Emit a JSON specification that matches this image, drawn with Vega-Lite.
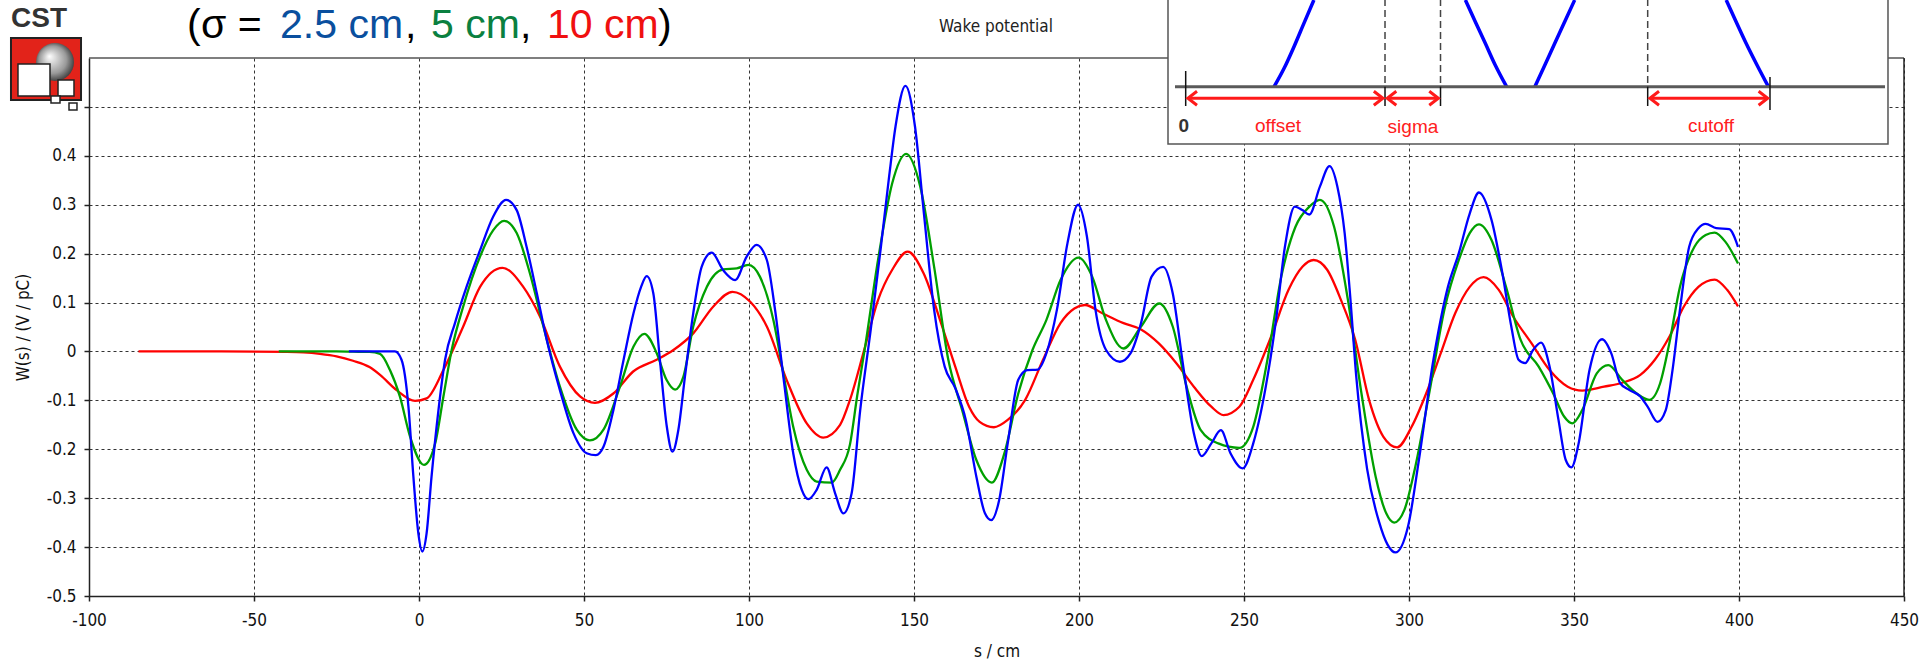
{
  "$schema": "https://vega.github.io/schema/vega-lite/v6.json",
  "width": 1815,
  "height": 538,
  "autosize": {"type": "none"},
  "padding": {"left": 89, "top": 58, "right": 15, "bottom": 63},
  "background": "white",
  "config": {
    "view": {"stroke": null},
    "axis": {
      "domainColor": "#222", "domainWidth": 1.5,
      "tickColor": "#222", "tickWidth": 1.5, "tickSize": 5,
      "labelFont": "DejaVu Sans Condensed, DejaVu Sans", "labelFontSize": 17, "labelColor": "#111",
      "titleFont": "DejaVu Sans Condensed, DejaVu Sans", "titleFontSize": 17, "titleFontWeight": "normal", "titleColor": "#111",
      "gridColor": "#333", "gridDash": [3, 3], "gridWidth": 1, "gridOpacity": 1
    }
  },
  "datasets": {
    "wake": [
      {"x": -85, "y": 0, "sigma": "10 cm"}, {"x": -60, "y": 0, "sigma": "10 cm"}, {"x": -40, "y": -0.001, "sigma": "10 cm"}, {"x": -35, "y": -0.002, "sigma": "10 cm"}, {"x": -30, "y": -0.005, "sigma": "10 cm"}, {"x": -25, "y": -0.01, "sigma": "10 cm"}, {"x": -20, "y": -0.019, "sigma": "10 cm"}, {"x": -15, "y": -0.032, "sigma": "10 cm"}, {"x": -11.8, "y": -0.048, "sigma": "10 cm"}, {"x": -6.8, "y": -0.079, "sigma": "10 cm"}, {"x": -1.2, "y": -0.101, "sigma": "10 cm"}, {"x": 2.3, "y": -0.096, "sigma": "10 cm"}, {"x": 7.4, "y": -0.038, "sigma": "10 cm"}, {"x": 13.4, "y": 0.051, "sigma": "10 cm"}, {"x": 18.5, "y": 0.132, "sigma": "10 cm"}, {"x": 25.3, "y": 0.171, "sigma": "10 cm"}, {"x": 31.6, "y": 0.132, "sigma": "10 cm"}, {"x": 36.7, "y": 0.071, "sigma": "10 cm"}, {"x": 42.7, "y": -0.031, "sigma": "10 cm"}, {"x": 48.8, "y": -0.092, "sigma": "10 cm"}, {"x": 53.3, "y": -0.105, "sigma": "10 cm"}, {"x": 58.9, "y": -0.086, "sigma": "10 cm"}, {"x": 64.9, "y": -0.041, "sigma": "10 cm"}, {"x": 72.0, "y": -0.017, "sigma": "10 cm"}, {"x": 77.1, "y": 0.003, "sigma": "10 cm"}, {"x": 83.1, "y": 0.037, "sigma": "10 cm"}, {"x": 89.2, "y": 0.092, "sigma": "10 cm"}, {"x": 95.0, "y": 0.122, "sigma": "10 cm"}, {"x": 100.3, "y": 0.102, "sigma": "10 cm"}, {"x": 105.4, "y": 0.051, "sigma": "10 cm"}, {"x": 111.4, "y": -0.058, "sigma": "10 cm"}, {"x": 117.5, "y": -0.147, "sigma": "10 cm"}, {"x": 122.5, "y": -0.176, "sigma": "10 cm"}, {"x": 127.6, "y": -0.15, "sigma": "10 cm"}, {"x": 130.6, "y": -0.099, "sigma": "10 cm"}, {"x": 134.9, "y": 0.003, "sigma": "10 cm"}, {"x": 139.1, "y": 0.105, "sigma": "10 cm"}, {"x": 143.4, "y": 0.167, "sigma": "10 cm"}, {"x": 148.1, "y": 0.204, "sigma": "10 cm"}, {"x": 152.9, "y": 0.16, "sigma": "10 cm"}, {"x": 158.2, "y": 0.058, "sigma": "10 cm"}, {"x": 162.5, "y": -0.031, "sigma": "10 cm"}, {"x": 166.7, "y": -0.113, "sigma": "10 cm"}, {"x": 169.9, "y": -0.144, "sigma": "10 cm"}, {"x": 174.2, "y": -0.155, "sigma": "10 cm"}, {"x": 178.4, "y": -0.14, "sigma": "10 cm"}, {"x": 183.7, "y": -0.099, "sigma": "10 cm"}, {"x": 189.1, "y": -0.017, "sigma": "10 cm"}, {"x": 194.4, "y": 0.058, "sigma": "10 cm"}, {"x": 198.6, "y": 0.088, "sigma": "10 cm"}, {"x": 201.8, "y": 0.095, "sigma": "10 cm"}, {"x": 207.1, "y": 0.078, "sigma": "10 cm"}, {"x": 213.5, "y": 0.058, "sigma": "10 cm"}, {"x": 218.8, "y": 0.045, "sigma": "10 cm"}, {"x": 224.1, "y": 0.017, "sigma": "10 cm"}, {"x": 229.5, "y": -0.024, "sigma": "10 cm"}, {"x": 234.8, "y": -0.072, "sigma": "10 cm"}, {"x": 240.1, "y": -0.113, "sigma": "10 cm"}, {"x": 243.8, "y": -0.13, "sigma": "10 cm"}, {"x": 248.6, "y": -0.113, "sigma": "10 cm"}, {"x": 252.8, "y": -0.058, "sigma": "10 cm"}, {"x": 258.2, "y": 0.03, "sigma": "10 cm"}, {"x": 263.5, "y": 0.126, "sigma": "10 cm"}, {"x": 267.7, "y": 0.173, "sigma": "10 cm"}, {"x": 271.1, "y": 0.187, "sigma": "10 cm"}, {"x": 275.2, "y": 0.167, "sigma": "10 cm"}, {"x": 279.4, "y": 0.105, "sigma": "10 cm"}, {"x": 283.7, "y": 0.024, "sigma": "10 cm"}, {"x": 287.9, "y": -0.099, "sigma": "10 cm"}, {"x": 292.2, "y": -0.174, "sigma": "10 cm"}, {"x": 296.4, "y": -0.196, "sigma": "10 cm"}, {"x": 300.8, "y": -0.154, "sigma": "10 cm"}, {"x": 305.2, "y": -0.086, "sigma": "10 cm"}, {"x": 309.6, "y": -0.004, "sigma": "10 cm"}, {"x": 314.0, "y": 0.078, "sigma": "10 cm"}, {"x": 318.4, "y": 0.132, "sigma": "10 cm"}, {"x": 322.6, "y": 0.152, "sigma": "10 cm"}, {"x": 327.2, "y": 0.126, "sigma": "10 cm"}, {"x": 331.6, "y": 0.071, "sigma": "10 cm"}, {"x": 337.1, "y": 0.017, "sigma": "10 cm"}, {"x": 342.6, "y": -0.038, "sigma": "10 cm"}, {"x": 348.1, "y": -0.072, "sigma": "10 cm"}, {"x": 352.5, "y": -0.08, "sigma": "10 cm"}, {"x": 359.1, "y": -0.072, "sigma": "10 cm"}, {"x": 364.6, "y": -0.064, "sigma": "10 cm"}, {"x": 370.1, "y": -0.048, "sigma": "10 cm"}, {"x": 374.5, "y": -0.017, "sigma": "10 cm"}, {"x": 378.9, "y": 0.03, "sigma": "10 cm"}, {"x": 383.3, "y": 0.092, "sigma": "10 cm"}, {"x": 387.7, "y": 0.132, "sigma": "10 cm"}, {"x": 392.6, "y": 0.147, "sigma": "10 cm"}, {"x": 396.4, "y": 0.126, "sigma": "10 cm"}, {"x": 399.7, "y": 0.092, "sigma": "10 cm"},

      {"x": -42.5, "y": 0, "sigma": "5 cm"}, {"x": -25, "y": 0, "sigma": "5 cm"}, {"x": -20, "y": -0.0005, "sigma": "5 cm"}, {"x": -15, "y": -0.001, "sigma": "5 cm"}, {"x": -11.8, "y": -0.005, "sigma": "5 cm"}, {"x": -8.8, "y": -0.038, "sigma": "5 cm"}, {"x": -5.8, "y": -0.092, "sigma": "5 cm"}, {"x": -2.7, "y": -0.174, "sigma": "5 cm"}, {"x": 1.5, "y": -0.232, "sigma": "5 cm"}, {"x": 4.9, "y": -0.188, "sigma": "5 cm"}, {"x": 7.4, "y": -0.092, "sigma": "5 cm"}, {"x": 9.9, "y": 0.003, "sigma": "5 cm"}, {"x": 13.4, "y": 0.092, "sigma": "5 cm"}, {"x": 18.5, "y": 0.194, "sigma": "5 cm"}, {"x": 22.5, "y": 0.248, "sigma": "5 cm"}, {"x": 25.8, "y": 0.267, "sigma": "5 cm"}, {"x": 29.6, "y": 0.242, "sigma": "5 cm"}, {"x": 33.6, "y": 0.16, "sigma": "5 cm"}, {"x": 37.7, "y": 0.051, "sigma": "5 cm"}, {"x": 42.7, "y": -0.072, "sigma": "5 cm"}, {"x": 47.8, "y": -0.16, "sigma": "5 cm"}, {"x": 51.8, "y": -0.182, "sigma": "5 cm"}, {"x": 55.9, "y": -0.16, "sigma": "5 cm"}, {"x": 60.9, "y": -0.072, "sigma": "5 cm"}, {"x": 65.0, "y": 0.01, "sigma": "5 cm"}, {"x": 68.3, "y": 0.036, "sigma": "5 cm"}, {"x": 72.0, "y": -0.003, "sigma": "5 cm"}, {"x": 75.0, "y": -0.058, "sigma": "5 cm"}, {"x": 77.6, "y": -0.078, "sigma": "5 cm"}, {"x": 80.1, "y": -0.052, "sigma": "5 cm"}, {"x": 83.1, "y": 0.051, "sigma": "5 cm"}, {"x": 87.2, "y": 0.132, "sigma": "5 cm"}, {"x": 92.2, "y": 0.168, "sigma": "5 cm"}, {"x": 96.3, "y": 0.17, "sigma": "5 cm"}, {"x": 99.8, "y": 0.177, "sigma": "5 cm"}, {"x": 103.3, "y": 0.153, "sigma": "5 cm"}, {"x": 107.4, "y": 0.064, "sigma": "5 cm"}, {"x": 110.4, "y": -0.045, "sigma": "5 cm"}, {"x": 113.4, "y": -0.154, "sigma": "5 cm"}, {"x": 117.5, "y": -0.242, "sigma": "5 cm"}, {"x": 120.5, "y": -0.266, "sigma": "5 cm"}, {"x": 125.1, "y": -0.268, "sigma": "5 cm"}, {"x": 127.6, "y": -0.242, "sigma": "5 cm"}, {"x": 130.6, "y": -0.19, "sigma": "5 cm"}, {"x": 132.8, "y": -0.09, "sigma": "5 cm"}, {"x": 135.2, "y": 0.01, "sigma": "5 cm"}, {"x": 139.1, "y": 0.187, "sigma": "5 cm"}, {"x": 143.4, "y": 0.344, "sigma": "5 cm"}, {"x": 147.6, "y": 0.404, "sigma": "5 cm"}, {"x": 151.9, "y": 0.337, "sigma": "5 cm"}, {"x": 156.1, "y": 0.173, "sigma": "5 cm"}, {"x": 160.4, "y": -0.017, "sigma": "5 cm"}, {"x": 164.6, "y": -0.12, "sigma": "5 cm"}, {"x": 168.9, "y": -0.222, "sigma": "5 cm"}, {"x": 173.6, "y": -0.268, "sigma": "5 cm"}, {"x": 177.4, "y": -0.208, "sigma": "5 cm"}, {"x": 181.6, "y": -0.086, "sigma": "5 cm"}, {"x": 185.9, "y": 0.003, "sigma": "5 cm"}, {"x": 190.1, "y": 0.064, "sigma": "5 cm"}, {"x": 194.4, "y": 0.146, "sigma": "5 cm"}, {"x": 199.9, "y": 0.192, "sigma": "5 cm"}, {"x": 204.0, "y": 0.153, "sigma": "5 cm"}, {"x": 208.2, "y": 0.064, "sigma": "5 cm"}, {"x": 213.5, "y": 0.006, "sigma": "5 cm"}, {"x": 218.8, "y": 0.051, "sigma": "5 cm"}, {"x": 224.3, "y": 0.098, "sigma": "5 cm"}, {"x": 228.4, "y": 0.051, "sigma": "5 cm"}, {"x": 232.6, "y": -0.072, "sigma": "5 cm"}, {"x": 236.9, "y": -0.161, "sigma": "5 cm"}, {"x": 242.2, "y": -0.188, "sigma": "5 cm"}, {"x": 248.6, "y": -0.197, "sigma": "5 cm"}, {"x": 252.8, "y": -0.154, "sigma": "5 cm"}, {"x": 257.1, "y": -0.017, "sigma": "5 cm"}, {"x": 261.3, "y": 0.153, "sigma": "5 cm"}, {"x": 265.6, "y": 0.255, "sigma": "5 cm"}, {"x": 269.8, "y": 0.296, "sigma": "5 cm"}, {"x": 273.0, "y": 0.31, "sigma": "5 cm"}, {"x": 277.3, "y": 0.255, "sigma": "5 cm"}, {"x": 281.5, "y": 0.105, "sigma": "5 cm"}, {"x": 285.6, "y": -0.086, "sigma": "5 cm"}, {"x": 289.9, "y": -0.256, "sigma": "5 cm"}, {"x": 293.1, "y": -0.331, "sigma": "5 cm"}, {"x": 295.5, "y": -0.35, "sigma": "5 cm"}, {"x": 298.6, "y": -0.324, "sigma": "5 cm"}, {"x": 301.9, "y": -0.236, "sigma": "5 cm"}, {"x": 306.3, "y": -0.079, "sigma": "5 cm"}, {"x": 310.7, "y": 0.085, "sigma": "5 cm"}, {"x": 315.1, "y": 0.187, "sigma": "5 cm"}, {"x": 318.4, "y": 0.242, "sigma": "5 cm"}, {"x": 321.2, "y": 0.26, "sigma": "5 cm"}, {"x": 325.0, "y": 0.228, "sigma": "5 cm"}, {"x": 329.4, "y": 0.132, "sigma": "5 cm"}, {"x": 333.8, "y": 0.024, "sigma": "5 cm"}, {"x": 339.3, "y": -0.031, "sigma": "5 cm"}, {"x": 343.7, "y": -0.086, "sigma": "5 cm"}, {"x": 347.0, "y": -0.133, "sigma": "5 cm"}, {"x": 349.5, "y": -0.147, "sigma": "5 cm"}, {"x": 352.5, "y": -0.12, "sigma": "5 cm"}, {"x": 356.9, "y": -0.045, "sigma": "5 cm"}, {"x": 360.4, "y": -0.028, "sigma": "5 cm"}, {"x": 364.6, "y": -0.058, "sigma": "5 cm"}, {"x": 369.0, "y": -0.086, "sigma": "5 cm"}, {"x": 372.8, "y": -0.099, "sigma": "5 cm"}, {"x": 376.1, "y": -0.065, "sigma": "5 cm"}, {"x": 378.9, "y": 0.017, "sigma": "5 cm"}, {"x": 382.1, "y": 0.132, "sigma": "5 cm"}, {"x": 386.5, "y": 0.214, "sigma": "5 cm"}, {"x": 389.9, "y": 0.238, "sigma": "5 cm"}, {"x": 392.6, "y": 0.243, "sigma": "5 cm"}, {"x": 395.9, "y": 0.224, "sigma": "5 cm"}, {"x": 399.7, "y": 0.18, "sigma": "5 cm"},

      {"x": -21.25, "y": 0, "sigma": "2.5 cm"}, {"x": -7.3, "y": 0, "sigma": "2.5 cm"}, {"x": -5.3, "y": -0.017, "sigma": "2.5 cm"}, {"x": -3.2, "y": -0.113, "sigma": "2.5 cm"}, {"x": -1.7, "y": -0.256, "sigma": "2.5 cm"}, {"x": -0.2, "y": -0.372, "sigma": "2.5 cm"}, {"x": 1.0, "y": -0.409, "sigma": "2.5 cm"}, {"x": 2.3, "y": -0.372, "sigma": "2.5 cm"}, {"x": 3.8, "y": -0.256, "sigma": "2.5 cm"}, {"x": 5.9, "y": -0.12, "sigma": "2.5 cm"}, {"x": 7.9, "y": -0.017, "sigma": "2.5 cm"}, {"x": 10.9, "y": 0.058, "sigma": "2.5 cm"}, {"x": 14.4, "y": 0.132, "sigma": "2.5 cm"}, {"x": 18.5, "y": 0.207, "sigma": "2.5 cm"}, {"x": 22.5, "y": 0.276, "sigma": "2.5 cm"}, {"x": 26.4, "y": 0.31, "sigma": "2.5 cm"}, {"x": 29.6, "y": 0.289, "sigma": "2.5 cm"}, {"x": 32.6, "y": 0.214, "sigma": "2.5 cm"}, {"x": 35.7, "y": 0.119, "sigma": "2.5 cm"}, {"x": 38.7, "y": 0.024, "sigma": "2.5 cm"}, {"x": 42.7, "y": -0.079, "sigma": "2.5 cm"}, {"x": 46.8, "y": -0.167, "sigma": "2.5 cm"}, {"x": 50.8, "y": -0.208, "sigma": "2.5 cm"}, {"x": 53.6, "y": -0.212, "sigma": "2.5 cm"}, {"x": 55.9, "y": -0.195, "sigma": "2.5 cm"}, {"x": 58.9, "y": -0.12, "sigma": "2.5 cm"}, {"x": 62.0, "y": -0.017, "sigma": "2.5 cm"}, {"x": 65.0, "y": 0.078, "sigma": "2.5 cm"}, {"x": 67.3, "y": 0.132, "sigma": "2.5 cm"}, {"x": 69.0, "y": 0.154, "sigma": "2.5 cm"}, {"x": 71.0, "y": 0.119, "sigma": "2.5 cm"}, {"x": 73.0, "y": -0.017, "sigma": "2.5 cm"}, {"x": 75.1, "y": -0.154, "sigma": "2.5 cm"}, {"x": 76.8, "y": -0.205, "sigma": "2.5 cm"}, {"x": 78.6, "y": -0.16, "sigma": "2.5 cm"}, {"x": 80.6, "y": -0.051, "sigma": "2.5 cm"}, {"x": 83.1, "y": 0.078, "sigma": "2.5 cm"}, {"x": 85.7, "y": 0.174, "sigma": "2.5 cm"}, {"x": 88.7, "y": 0.202, "sigma": "2.5 cm"}, {"x": 92.2, "y": 0.166, "sigma": "2.5 cm"}, {"x": 95.8, "y": 0.146, "sigma": "2.5 cm"}, {"x": 99.3, "y": 0.194, "sigma": "2.5 cm"}, {"x": 102.3, "y": 0.218, "sigma": "2.5 cm"}, {"x": 105.4, "y": 0.187, "sigma": "2.5 cm"}, {"x": 107.9, "y": 0.085, "sigma": "2.5 cm"}, {"x": 110.4, "y": -0.051, "sigma": "2.5 cm"}, {"x": 113.4, "y": -0.208, "sigma": "2.5 cm"}, {"x": 116.0, "y": -0.283, "sigma": "2.5 cm"}, {"x": 118.0, "y": -0.302, "sigma": "2.5 cm"}, {"x": 120.5, "y": -0.283, "sigma": "2.5 cm"}, {"x": 123.5, "y": -0.237, "sigma": "2.5 cm"}, {"x": 126.1, "y": -0.29, "sigma": "2.5 cm"}, {"x": 128.6, "y": -0.331, "sigma": "2.5 cm"}, {"x": 131.1, "y": -0.29, "sigma": "2.5 cm"}, {"x": 133.7, "y": -0.12, "sigma": "2.5 cm"}, {"x": 136.9, "y": 0.045, "sigma": "2.5 cm"}, {"x": 139.9, "y": 0.21, "sigma": "2.5 cm"}, {"x": 142.5, "y": 0.36, "sigma": "2.5 cm"}, {"x": 144.4, "y": 0.46, "sigma": "2.5 cm"}, {"x": 147.4, "y": 0.543, "sigma": "2.5 cm"}, {"x": 150.3, "y": 0.46, "sigma": "2.5 cm"}, {"x": 152.9, "y": 0.289, "sigma": "2.5 cm"}, {"x": 156.1, "y": 0.085, "sigma": "2.5 cm"}, {"x": 159.3, "y": -0.031, "sigma": "2.5 cm"}, {"x": 162.5, "y": -0.075, "sigma": "2.5 cm"}, {"x": 165.7, "y": -0.14, "sigma": "2.5 cm"}, {"x": 168.9, "y": -0.256, "sigma": "2.5 cm"}, {"x": 171.5, "y": -0.331, "sigma": "2.5 cm"}, {"x": 173.4, "y": -0.345, "sigma": "2.5 cm"}, {"x": 175.8, "y": -0.304, "sigma": "2.5 cm"}, {"x": 178.4, "y": -0.188, "sigma": "2.5 cm"}, {"x": 181.6, "y": -0.058, "sigma": "2.5 cm"}, {"x": 184.3, "y": -0.038, "sigma": "2.5 cm"}, {"x": 187.5, "y": -0.037, "sigma": "2.5 cm"}, {"x": 190.1, "y": -0.004, "sigma": "2.5 cm"}, {"x": 193.3, "y": 0.085, "sigma": "2.5 cm"}, {"x": 196.5, "y": 0.221, "sigma": "2.5 cm"}, {"x": 199.7, "y": 0.3, "sigma": "2.5 cm"}, {"x": 202.4, "y": 0.235, "sigma": "2.5 cm"}, {"x": 205.0, "y": 0.085, "sigma": "2.5 cm"}, {"x": 208.2, "y": 0.003, "sigma": "2.5 cm"}, {"x": 212.4, "y": -0.021, "sigma": "2.5 cm"}, {"x": 215.6, "y": -0.004, "sigma": "2.5 cm"}, {"x": 218.8, "y": 0.058, "sigma": "2.5 cm"}, {"x": 222.0, "y": 0.153, "sigma": "2.5 cm"}, {"x": 225.5, "y": 0.173, "sigma": "2.5 cm"}, {"x": 228.4, "y": 0.119, "sigma": "2.5 cm"}, {"x": 231.6, "y": -0.031, "sigma": "2.5 cm"}, {"x": 234.8, "y": -0.167, "sigma": "2.5 cm"}, {"x": 237.2, "y": -0.214, "sigma": "2.5 cm"}, {"x": 240.1, "y": -0.188, "sigma": "2.5 cm"}, {"x": 243.0, "y": -0.161, "sigma": "2.5 cm"}, {"x": 245.9, "y": -0.208, "sigma": "2.5 cm"}, {"x": 249.6, "y": -0.239, "sigma": "2.5 cm"}, {"x": 252.8, "y": -0.188, "sigma": "2.5 cm"}, {"x": 256.6, "y": -0.072, "sigma": "2.5 cm"}, {"x": 259.7, "y": 0.064, "sigma": "2.5 cm"}, {"x": 262.4, "y": 0.214, "sigma": "2.5 cm"}, {"x": 265.4, "y": 0.296, "sigma": "2.5 cm"}, {"x": 267.7, "y": 0.289, "sigma": "2.5 cm"}, {"x": 269.8, "y": 0.28, "sigma": "2.5 cm"}, {"x": 273.0, "y": 0.337, "sigma": "2.5 cm"}, {"x": 275.9, "y": 0.379, "sigma": "2.5 cm"}, {"x": 278.3, "y": 0.337, "sigma": "2.5 cm"}, {"x": 280.5, "y": 0.242, "sigma": "2.5 cm"}, {"x": 282.1, "y": 0.12, "sigma": "2.5 cm"}, {"x": 284.0, "y": -0.05, "sigma": "2.5 cm"}, {"x": 287.3, "y": -0.24, "sigma": "2.5 cm"}, {"x": 291.0, "y": -0.35, "sigma": "2.5 cm"}, {"x": 293.5, "y": -0.395, "sigma": "2.5 cm"}, {"x": 295.9, "y": -0.411, "sigma": "2.5 cm"}, {"x": 299.7, "y": -0.358, "sigma": "2.5 cm"}, {"x": 303.0, "y": -0.222, "sigma": "2.5 cm"}, {"x": 307.4, "y": -0.017, "sigma": "2.5 cm"}, {"x": 311.8, "y": 0.132, "sigma": "2.5 cm"}, {"x": 315.1, "y": 0.201, "sigma": "2.5 cm"}, {"x": 318.4, "y": 0.282, "sigma": "2.5 cm"}, {"x": 321.2, "y": 0.325, "sigma": "2.5 cm"}, {"x": 325.0, "y": 0.269, "sigma": "2.5 cm"}, {"x": 328.3, "y": 0.16, "sigma": "2.5 cm"}, {"x": 331.0, "y": 0.051, "sigma": "2.5 cm"}, {"x": 333.2, "y": -0.017, "sigma": "2.5 cm"}, {"x": 335.2, "y": -0.024, "sigma": "2.5 cm"}, {"x": 337.6, "y": 0.003, "sigma": "2.5 cm"}, {"x": 340.0, "y": 0.018, "sigma": "2.5 cm"}, {"x": 342.6, "y": -0.031, "sigma": "2.5 cm"}, {"x": 345.3, "y": -0.14, "sigma": "2.5 cm"}, {"x": 347.5, "y": -0.222, "sigma": "2.5 cm"}, {"x": 349.2, "y": -0.237, "sigma": "2.5 cm"}, {"x": 351.4, "y": -0.188, "sigma": "2.5 cm"}, {"x": 354.7, "y": -0.038, "sigma": "2.5 cm"}, {"x": 358.5, "y": 0.025, "sigma": "2.5 cm"}, {"x": 361.3, "y": -0.004, "sigma": "2.5 cm"}, {"x": 364.0, "y": -0.065, "sigma": "2.5 cm"}, {"x": 366.8, "y": -0.079, "sigma": "2.5 cm"}, {"x": 370.1, "y": -0.092, "sigma": "2.5 cm"}, {"x": 372.3, "y": -0.113, "sigma": "2.5 cm"}, {"x": 375.3, "y": -0.144, "sigma": "2.5 cm"}, {"x": 377.8, "y": -0.12, "sigma": "2.5 cm"}, {"x": 380.0, "y": -0.031, "sigma": "2.5 cm"}, {"x": 382.1, "y": 0.085, "sigma": "2.5 cm"}, {"x": 384.9, "y": 0.214, "sigma": "2.5 cm"}, {"x": 387.7, "y": 0.252, "sigma": "2.5 cm"}, {"x": 389.9, "y": 0.261, "sigma": "2.5 cm"}, {"x": 393.1, "y": 0.252, "sigma": "2.5 cm"}, {"x": 397.0, "y": 0.25, "sigma": "2.5 cm"}, {"x": 399.7, "y": 0.214, "sigma": "2.5 cm"}
    ],
    "frameTop": [{"x": -100, "x2": 450, "y": 0.6}],
    "frameRight": [{"x": 450, "y": 0.6, "y2": -0.5}],
    "insetBox": [{"x": 226.97, "x2": 445.15, "y": 0.7206, "y2": 0.4242}],
    "insetDashed": [{"x": 292.73, "y": 0.7206, "y2": 0.5413}, {"x": 309.55, "y": 0.7206, "y2": 0.5413}, {"x": 372.33, "y": 0.7206, "y2": 0.5413}],
    "insetAxis": [{"x": 229.09, "x2": 444.24, "y": 0.5413}],
    "insetTicks": [{"x": 232.33, "y": 0.5734, "y2": 0.5019}, {"x": 292.73, "y": 0.5413, "y2": 0.5019}, {"x": 309.55, "y": 0.5413, "y2": 0.5019}, {"x": 372.33, "y": 0.5413, "y2": 0.5019}, {"x": 409.39, "y": 0.5612, "y2": 0.4937}],
    "insetCurves": [
      {"seg": 1, "x": 259.12, "y": 0.5413}, {"seg": 1, "x": 262.15, "y": 0.5789}, {"seg": 1, "x": 265.15, "y": 0.6231}, {"seg": 1, "x": 268.15, "y": 0.6709}, {"seg": 1, "x": 271.18, "y": 0.7186},
      {"seg": 2, "x": 317.09, "y": 0.7186}, {"seg": 2, "x": 320.09, "y": 0.6742}, {"seg": 2, "x": 323.12, "y": 0.6301}, {"seg": 2, "x": 326.12, "y": 0.5857}, {"seg": 2, "x": 329.58, "y": 0.5413},
      {"seg": 3, "x": 338.15, "y": 0.5413}, {"seg": 3, "x": 341.18, "y": 0.5857}, {"seg": 3, "x": 344.18, "y": 0.6301}, {"seg": 3, "x": 347.18, "y": 0.6742}, {"seg": 3, "x": 350.21, "y": 0.7186},
      {"seg": 4, "x": 396.12, "y": 0.7186}, {"seg": 4, "x": 399.12, "y": 0.6742}, {"seg": 4, "x": 402.15, "y": 0.6301}, {"seg": 4, "x": 405.45, "y": 0.5857}, {"seg": 4, "x": 408.91, "y": 0.5413}
    ],
    "insetArrows": [{"x": 233.5, "x2": 291.6, "y": 0.5176}, {"x": 293.9, "x2": 308.4, "y": 0.5176}, {"x": 373.5, "x2": 408.2, "y": 0.5176}],
    "insetHeads": [
      {"x": 233.0, "y": 0.5176, "dir": "l"}, {"x": 292.1, "y": 0.5176, "dir": "r"},
      {"x": 293.4, "y": 0.5176, "dir": "l"}, {"x": 308.9, "y": 0.5176, "dir": "r"},
      {"x": 373.0, "y": 0.5176, "dir": "l"}, {"x": 408.7, "y": 0.5176, "dir": "r"}
    ],
    "insetLabels": [{"t": "offset", "x": 260.3, "y": 0.4497}, {"t": "sigma", "x": 301.2, "y": 0.4467}, {"t": "cutoff", "x": 391.5, "y": 0.4497}],
    "insetZero": [{"t": "0", "x": 231.73, "y": 0.4497}],
    "headBlack": [{"t": "(", "x": -70.3, "y": 0.6409}, {"t": ")", "x": 72.42, "y": 0.6409}, {"t": "σ =", "x": -66.06, "y": 0.6409}, {"t": ",", "x": -4.24, "y": 0.6409}, {"t": ",", "x": 30.6, "y": 0.6409}],
    "headBlue": [{"t": "2.5 cm", "x": -42.12, "y": 0.6409}],
    "headGreen": [{"t": "5 cm", "x": 3.64, "y": 0.6409}],
    "headRed": [{"t": "10 cm", "x": 38.79, "y": 0.6409}],
    "plotTitle": [{"t": "Wake potential", "x": 174.85, "y": 0.6532}],
    "logoRed": [{"x": -123.64, "x2": -102.42, "y": 0.6409, "y2": 0.5141}],
    "logoSphere": [{"x": -110.3, "y": 0.5918}],
    "logoCubes": [
      {"x": -121.52, "x2": -111.82, "y": 0.5877, "y2": 0.5223},
      {"x": -109.39, "x2": -104.55, "y": 0.555, "y2": 0.5223},
      {"x": -111.52, "x2": -108.79, "y": 0.5223, "y2": 0.508},
      {"x": -106.06, "x2": -103.64, "y": 0.508, "y2": 0.4937}
    ],
    "logoText": [{"t": "CST", "x": -123.64, "y": 0.6634}]
  },
  "encoding": {
    "x": {
      "field": "x", "type": "quantitative",
      "scale": {"domain": [-100, 450], "nice": false, "zero": false},
      "axis": {
        "values": [-100, -50, 0, 50, 100, 150, 200, 250, 300, 350, 400, 450],
        "labelExpr": "'' + datum.value",
        "labelPadding": 11, "labelFlush": false, "labelOverlap": false,
        "grid": true,
        "title": "s / cm", "titleY": 60, "titleBaseline": "alphabetic"
      }
    },
    "y": {
      "field": "y", "type": "quantitative",
      "scale": {"domain": [-0.5, 0.6], "nice": false, "zero": false},
      "axis": {
        "values": [-0.5, -0.4, -0.3, -0.2, -0.1, 0, 0.1, 0.2, 0.3, 0.4, 0.5],
        "labelExpr": "datum.value == 0.5 ? '' : '' + datum.value",
        "labelPadding": 8, "labelFlush": false, "labelOverlap": false,
        "grid": true,
        "title": "W(s) / (V / pC)", "titleX": -61, "titleBaseline": "alphabetic", "titleAngle": 270
      }
    }
  },
  "layer": [
    {"data": {"name": "frameTop"}, "mark": {"type": "rule", "color": "#555", "strokeWidth": 1.5}, "encoding": {"x2": {"field": "x2"}}},
    {"data": {"name": "frameRight"}, "mark": {"type": "rule", "color": "#222", "strokeWidth": 1.5}, "encoding": {"y2": {"field": "y2"}}},
    {"data": {"name": "wake"}, "transform": [{"filter": "datum.sigma == '10 cm'"}], "mark": {"type": "line", "color": "#ff0000", "strokeWidth": 2.3, "interpolate": "monotone"}, "encoding": {}},
    {"data": {"name": "wake"}, "transform": [{"filter": "datum.sigma == '5 cm'"}], "mark": {"type": "line", "color": "#00a000", "strokeWidth": 2.3, "interpolate": "monotone"}, "encoding": {}},
    {"data": {"name": "wake"}, "transform": [{"filter": "datum.sigma == '2.5 cm'"}], "mark": {"type": "line", "color": "#0000ff", "strokeWidth": 2.3, "interpolate": "monotone"}, "encoding": {}},
    {"data": {"name": "insetBox"}, "mark": {"type": "rect", "fill": "white", "stroke": "#555", "strokeWidth": 1.5}, "encoding": {"x2": {"field": "x2"}, "y2": {"field": "y2"}}},
    {"data": {"name": "insetDashed"}, "mark": {"type": "rule", "color": "#444", "strokeWidth": 1.5, "strokeDash": [7, 4]}, "encoding": {"y2": {"field": "y2"}}},
    {"data": {"name": "insetCurves"}, "mark": {"type": "line", "color": "#0000ff", "strokeWidth": 3.5, "interpolate": "monotone"}, "encoding": {"detail": {"field": "seg"}}},
    {"data": {"name": "insetAxis"}, "mark": {"type": "rule", "color": "#5a5a5a", "strokeWidth": 3}, "encoding": {"x2": {"field": "x2"}}},
    {"data": {"name": "insetTicks"}, "mark": {"type": "rule", "color": "#111", "strokeWidth": 1.5}, "encoding": {"y2": {"field": "y2"}}},
    {"data": {"name": "insetArrows"}, "mark": {"type": "rule", "color": "#ff1a1a", "strokeWidth": 3}, "encoding": {"x2": {"field": "x2"}}},
    {"data": {"name": "insetHeads"}, "mark": {"type": "point", "filled": false, "color": "#ff1a1a", "strokeWidth": 3, "size": 196, "opacity": 1}, "encoding": {"shape": {"field": "dir", "type": "nominal", "scale": {"domain": ["l", "r"], "range": ["M1.3,-1L0,0L1.3,1", "M-1.3,-1L0,0L-1.3,1"]}, "legend": null}}},
    {"data": {"name": "insetLabels"}, "mark": {"type": "text", "font": "Liberation Sans", "fontSize": 19, "color": "#ff2020", "align": "center", "baseline": "alphabetic"}, "encoding": {"text": {"field": "t"}}},
    {"data": {"name": "insetZero"}, "mark": {"type": "text", "font": "Liberation Sans", "fontSize": 19, "fontWeight": "bold", "color": "#333", "align": "center", "baseline": "alphabetic"}, "encoding": {"text": {"field": "t"}}},
    {"data": {"name": "headBlack"}, "mark": {"type": "text", "font": "Liberation Sans", "fontSize": 41, "color": "#000", "align": "left", "baseline": "alphabetic"}, "encoding": {"text": {"field": "t"}}},
    {"data": {"name": "headBlue"}, "mark": {"type": "text", "font": "Liberation Sans", "fontSize": 41, "color": "#0a4f9e", "align": "left", "baseline": "alphabetic"}, "encoding": {"text": {"field": "t"}}},
    {"data": {"name": "headGreen"}, "mark": {"type": "text", "font": "Liberation Sans", "fontSize": 41, "color": "#0a8040", "align": "left", "baseline": "alphabetic"}, "encoding": {"text": {"field": "t"}}},
    {"data": {"name": "headRed"}, "mark": {"type": "text", "font": "Liberation Sans", "fontSize": 41, "color": "#f01010", "align": "left", "baseline": "alphabetic"}, "encoding": {"text": {"field": "t"}}},
    {"data": {"name": "plotTitle"}, "mark": {"type": "text", "font": "DejaVu Sans Condensed, DejaVu Sans", "fontSize": 17, "color": "#222", "align": "center", "baseline": "alphabetic"}, "encoding": {"text": {"field": "t"}}},
    {"data": {"name": "logoRed"}, "mark": {"type": "rect", "fill": "#e2231a", "stroke": "#222", "strokeWidth": 2}, "encoding": {"x2": {"field": "x2"}, "y2": {"field": "y2"}}},
    {"data": {"name": "logoSphere"}, "mark": {"type": "point", "shape": "circle", "filled": true, "size": 1444, "opacity": 1, "strokeWidth": 0, "fill": {"gradient": "radial", "x1": 0.35, "y1": 0.35, "r1": 0, "x2": 0.5, "y2": 0.5, "r2": 0.6, "stops": [{"offset": 0, "color": "#ffffff"}, {"offset": 0.6, "color": "#9a9a9a"}, {"offset": 1, "color": "#1a1a1a"}]}}, "encoding": {}},
    {"data": {"name": "logoCubes"}, "mark": {"type": "rect", "fill": "white", "stroke": "#222", "strokeWidth": 1.5}, "encoding": {"x2": {"field": "x2"}, "y2": {"field": "y2"}}},
    {"data": {"name": "logoText"}, "mark": {"type": "text", "font": "Liberation Sans", "fontWeight": "bold", "fontSize": 28, "color": "#333", "align": "left", "baseline": "alphabetic"}, "encoding": {"text": {"field": "t"}}}
  ]
}
